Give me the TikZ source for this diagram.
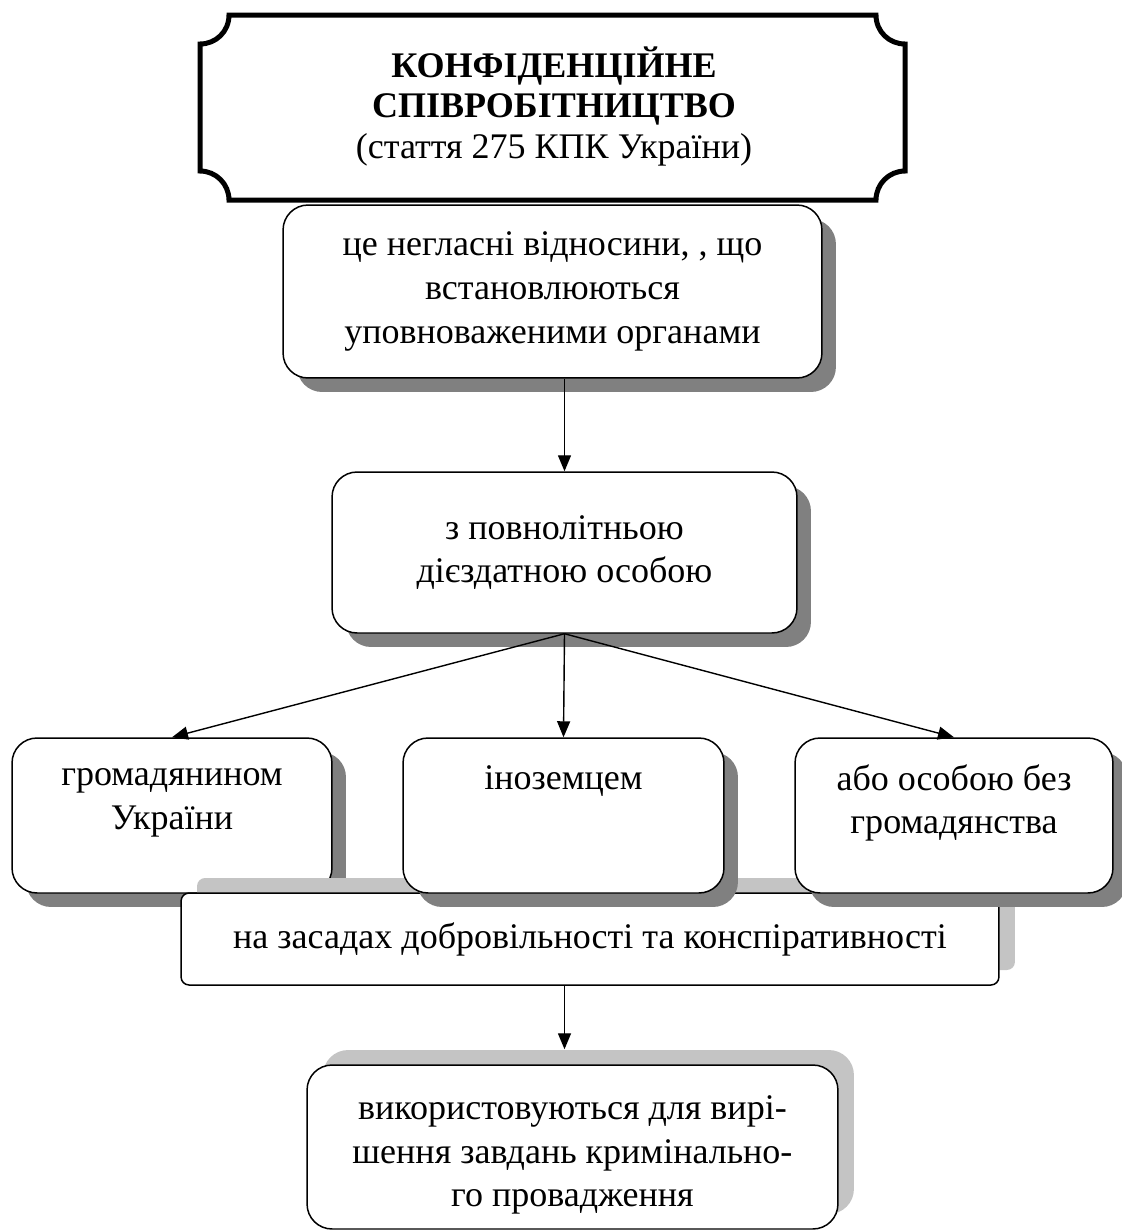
\documentclass[tikz,border=0pt]{standalone}
\usepackage{fontspec}
\setmainfont{Liberation Serif}
\usetikzlibrary{arrows.meta,shadows}
\definecolor{shadeC}{HTML}{808080}
\definecolor{lightC}{HTML}{C4C4C4}
\newcommand{\boxsize}{\fontsize{20.5}{24.8}\selectfont}
\newcommand{\headsize}{\fontsize{20.5}{23.3}\selectfont}
\tikzset{
  box/.style={draw, rounded corners=0.5cm, fill=white, align=center, font=\boxsize,
              inner sep=2pt, line width=0.85pt},
  toptext/.style={text depth=0.65cm},
  darkshadow/.style={drop shadow={shadow xshift=0.28cm, shadow yshift=-0.28cm, fill=shadeC, opacity=1}},
  lightshadow/.style={drop shadow={shadow xshift=0.32cm, shadow yshift=0.3cm, fill=lightC, opacity=1}},
  arr/.style={-{Triangle[length=0.32cm,width=0.26cm]}, line width=0.8pt},
  plaque/.style={line width=0.1cm, line join=miter},
  head/.style={align=center, font=\headsize, inner sep=0pt},
}

\begin{document}
\begin{tikzpicture}[x=0.02cm, y=-0.02cm]
\useasboundingbox (0,0) rectangle (1122,1232);

% title plaque with concave corners
\draw[plaque] (229,15) -- (876,15)
  .. controls (876,31.5) and (889,44) .. (905,44) -- (905,171)
  .. controls (889,171) and (876,184) .. (876,200) -- (229,200)
  .. controls (229,184) and (216,171) .. (200,171) -- (200,44)
  .. controls (216,44) and (229,31.5) .. (229,15) -- cycle;
\begin{scope}
\clip (200,15) rectangle (905,167);
\node[head, anchor=north] (title) at (554,46) {{\bfseries КОНФІДЕНЦІЙНЕ}\\
  {\bfseries СПІВРОБІТНИЦТВО}\\ (стаття 275 КПК України)};
\end{scope}

\node[box, darkshadow, minimum width=10.78cm, minimum height=3.46cm] (relations) at (552.5,291.5)
  {це негласні відносини, , що\\ встановлюються\\ уповноваженими органами};
\node[box, darkshadow, minimum width=9.3cm, minimum height=3.22cm] (person) at (564.5,552.5)
  {з повнолітньою\\ дієздатною особою};
\node[box, darkshadow, toptext, minimum width=6.4cm, minimum height=3.1cm] (citizen) at (172,815.5)
  {громадянином\\ України};
\node[box, lightshadow, rounded corners=0.16cm, minimum width=16.36cm, minimum height=1.84cm] (basis) at (590,939)
  {на засадах добровільності та конспіративності};
\node[box, darkshadow, toptext, minimum width=6.42cm, minimum height=3.1cm] (foreigner) at (563.5,815.5)
  {іноземцем\\ \mbox{}};
\node[box, darkshadow, toptext, minimum width=6.36cm, minimum height=3.1cm] (stateless) at (954,815.5)
  {або особою без\\ громадянства};
\node[box, lightshadow, text height=2.55cm, minimum width=10.62cm, minimum height=3.28cm] (purpose) at (572.5,1147)
  {використовуються для вирі-\\ шення завдань кримінально-\\ го провадження};

\draw[arr] (person.north |- relations.south) -- (person.north);
\draw[arr] (person.south) -- (citizen.north);
\draw[arr] (person.south) -- (foreigner.north);
\draw[arr] (person.south) -- (stateless.north);
\draw[arr, shorten >=0.3cm] (person.north |- basis.south) -- (person.north |- purpose.north);
\end{tikzpicture}
\end{document}
